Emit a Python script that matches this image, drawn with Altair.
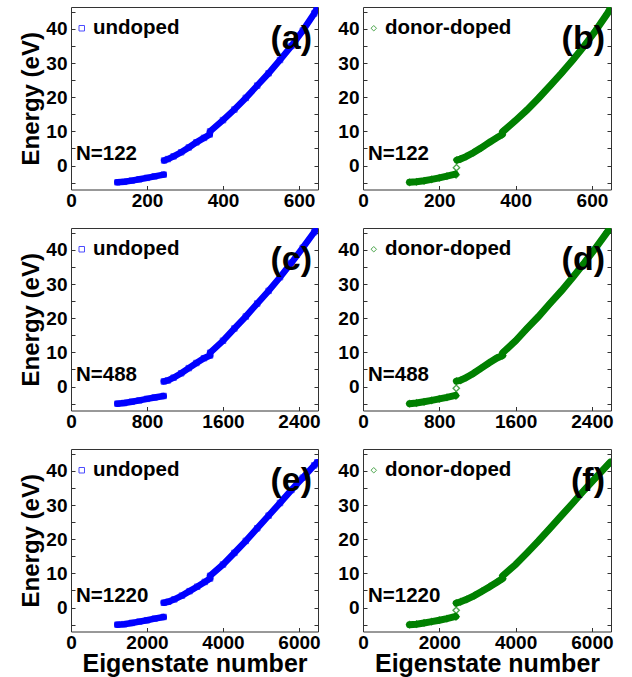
import altair as alt
import pandas as pd

BLUE = "#0000ff"
GREEN = "#008000"
FONT = "Liberation Sans"

Y_MIN, Y_MAX = -7, 46.4
Y_TICKS = [-5, 0, 5, 10, 15, 20, 25, 30, 35, 40, 45]

# ---------------- (a) undoped, N=122 ----------------
a_low_x = [122, 140, 160, 180, 200, 220, 244]
a_low_e = [-4.9, -4.75, -4.4, -4.0, -3.6, -3.15, -2.65]
a_up1_x = [245, 255, 270, 290, 310, 330, 350, 365]
a_up1_e = [1.5, 1.9, 2.7, 3.9, 5.3, 6.8, 8.1, 9.1]
a_up2_x = [366, 400, 430, 460, 490, 520, 550, 580, 610, 640, 650]
a_up2_e = [10.0, 13.3, 16.4, 19.8, 23.4, 27.0, 30.9, 35.0, 39.5, 44.5, 46.6]

# ---------------- (b) donor-doped, N=122 ----------------
b_low_x = [122, 140, 160, 180, 200, 220, 242]
b_low_e = [-4.9, -4.75, -4.45, -4.05, -3.6, -3.1, -2.5]
b_iso_x = [244, 245]
b_iso_e = [-2.7, -0.6]
b_up1_x = [246, 255, 270, 290, 310, 330, 350, 365]
b_up1_e = [1.6, 1.9, 2.6, 3.8, 5.2, 6.7, 8.1, 9.1]
b_up2_x = [366, 400, 430, 460, 490, 520, 550, 580, 610, 640, 650]
b_up2_e = [9.9, 13.2, 16.3, 19.7, 23.3, 27.0, 30.9, 35.0, 39.5, 44.4, 46.4]

# ---------------- (c) undoped, N=488 ----------------
c_low_x = [488, 560, 640, 720, 800, 880, 976]
c_low_e = [-5.0, -4.8, -4.45, -4.05, -3.6, -3.2, -2.75]
c_up1_x = [977, 1020, 1080, 1160, 1240, 1320, 1400, 1464]
c_up1_e = [1.5, 1.8, 2.6, 3.9, 5.4, 6.9, 8.3, 9.1]
c_up2_x = [1465, 1600, 1720, 1840, 1960, 2080, 2200, 2320, 2440, 2560, 2600]
c_up2_e = [9.9, 13.4, 17.0, 20.5, 24.3, 28.0, 32.0, 36.2, 40.6, 45.2, 46.8]

# ---------------- (d) donor-doped, N=488 ----------------
d_low_x = [488, 560, 640, 720, 800, 880, 970]
d_low_e = [-5.0, -4.8, -4.45, -4.05, -3.6, -3.15, -2.55]
d_iso_x = [975, 978]
d_iso_e = [-2.7, -0.5]
d_up1_x = [980, 1020, 1080, 1160, 1240, 1320, 1400, 1464]
d_up1_e = [1.6, 1.8, 2.6, 3.9, 5.4, 6.9, 8.3, 9.1]
d_up2_x = [1465, 1600, 1720, 1840, 1960, 2080, 2200, 2320, 2440, 2560, 2600]
d_up2_e = [9.9, 13.4, 17.0, 20.5, 24.3, 28.0, 32.0, 36.2, 40.6, 45.2, 46.8]

# ---------------- (e) undoped, N=1220 ----------------
e_low_x = [1220, 1400, 1600, 1800, 2000, 2200, 2440]
e_low_e = [-5.0, -4.85, -4.5, -4.1, -3.7, -3.25, -2.75]
e_up1_x = [2441, 2560, 2720, 2920, 3120, 3320, 3520, 3660]
e_up1_e = [1.4, 1.7, 2.4, 3.5, 4.8, 6.1, 7.5, 8.5]
e_up2_x = [3661, 4000, 4300, 4600, 4900, 5200, 5500, 5800, 6100, 6400, 6480]
e_up2_e = [9.3, 12.6, 16.0, 19.5, 23.2, 26.9, 30.6, 34.4, 38.0, 41.6, 42.5]

# ---------------- (f) donor-doped, N=1220 ----------------
f_low_x = [1220, 1400, 1600, 1800, 2000, 2200, 2430]
f_low_e = [-5.0, -4.85, -4.5, -4.1, -3.7, -3.25, -2.6]
f_iso_x = [2438, 2442]
f_iso_e = [-2.7, -0.8]
f_up1_x = [2445, 2560, 2720, 2920, 3120, 3320, 3520, 3660]
f_up1_e = [1.3, 1.7, 2.4, 3.5, 4.8, 6.1, 7.5, 8.5]
f_up2_x = [3661, 4000, 4300, 4600, 4900, 5200, 5500, 5800, 6100, 6400, 6480]
f_up2_e = [9.3, 12.6, 16.0, 19.5, 23.2, 26.9, 30.6, 34.4, 38.0, 41.6, 42.5]

x_max = [650, 650, 2600, 2600, 6500, 6500]
x_ticks = [[0, 200, 400, 600], [0, 200, 400, 600],
           [0, 800, 1600, 2400], [0, 800, 1600, 2400],
           [0, 2000, 4000, 6000], [0, 2000, 4000, 6000]]
letters = ["(a)", "(b)", "(c)", "(d)", "(e)", "(f)"]
n_labels = ["N=122", "N=122", "N=488", "N=488", "N=1220", "N=1220"]
series_names = ["undoped", "donor-doped"]

segments = [
    [(a_low_x, a_low_e), (a_up1_x, a_up1_e), (a_up2_x, a_up2_e)],
    [(b_low_x, b_low_e), (b_up1_x, b_up1_e), (b_up2_x, b_up2_e)],
    [(c_low_x, c_low_e), (c_up1_x, c_up1_e), (c_up2_x, c_up2_e)],
    [(d_low_x, d_low_e), (d_up1_x, d_up1_e), (d_up2_x, d_up2_e)],
    [(e_low_x, e_low_e), (e_up1_x, e_up1_e), (e_up2_x, e_up2_e)],
    [(f_low_x, f_low_e), (f_up1_x, f_up1_e), (f_up2_x, f_up2_e)],
]
isolated = [([], []), (b_iso_x, b_iso_e), ([], []), (d_iso_x, d_iso_e),
            ([], []), (f_iso_x, f_iso_e)]

W_L, W_R, H = 247, 248, 182.5


def panel(i):
    col = i % 2
    bottom = i >= 4
    color = BLUE if col == 0 else GREEN
    shape = "square" if col == 0 else "diamond"
    name = series_names[col]
    w = W_L if col == 0 else W_R

    rows = []
    for s, (xs, es) in enumerate(segments[i]):
        for x, e in zip(xs, es):
            rows.append({"x": x, "e": e, "seg": s, "series": name})
    line_df = pd.DataFrame(rows)
    iso_rows = [{"x": x, "e": e, "seg": 9, "series": name}
                for x, e in zip(*isolated[i])]
    pt_df = pd.DataFrame(rows + iso_rows)

    xscale = alt.Scale(domain=[0, x_max[i]], nice=False, zero=False)
    yscale = alt.Scale(domain=[Y_MIN, Y_MAX], nice=False, zero=False)

    xaxis_kw = dict(values=x_ticks[i], format="d", orient="bottom", offset=-4,
                    tickSize=4, domain=False, labelPadding=2, labelFlush=False,
                    grid=False)
    if bottom:
        xaxis = alt.Axis(title="Eigenstate number", titleFontSize=25,
                         titlePadding=-1, **xaxis_kw)
    else:
        xaxis = alt.Axis(title=None, **xaxis_kw)

    yl_kw = dict(values=Y_TICKS, orient="left", offset=-4, tickSize=4,
                 domain=False, labelPadding=4, grid=False,
                 labelExpr="datum.value % 10 === 0 ? datum.label : ''")
    if col == 0:
        yleft = alt.Axis(title="Energy (eV)", titleFontSize=24,
                         titlePadding=2, **yl_kw)
    else:
        yleft = alt.Axis(title=None, **yl_kw)
    yright = alt.Axis(values=Y_TICKS, orient="right", offset=-4, tickSize=4,
                      domain=False, labels=False, title=None, grid=False)

    line = alt.Chart(line_df).mark_line(
        color=color, strokeWidth=6.5 if col == 0 else 7, clip=True,
        strokeCap="round"
    ).encode(
        x=alt.X("x:Q", scale=xscale, axis=xaxis),
        y=alt.Y("e:Q", scale=yscale, axis=yleft),
        detail="seg:N",
    )

    pts = alt.Chart(pt_df).mark_point(
        shape=shape, filled=False, size=30 if col == 0 else 40,
        strokeWidth=1 if col == 0 else 1.4, clip=True
    ).encode(
        x=alt.X("x:Q", scale=xscale, axis=xaxis),
        y=alt.Y("e:Q", scale=yscale, axis=yright),
        color=alt.Color(
            "series:N",
            scale=alt.Scale(domain=[name], range=[color]),
            legend=alt.Legend(
                title=None, orient="none", legendX=0.5, legendY=11,
                labelFont=FONT, labelFontSize=20.5, labelFontWeight="bold",
                labelColor="black", symbolType=shape, symbolSize=30,
                symbolStrokeWidth=1, labelOffset=1, padding=0,
            ),
        ),
    )

    letter = alt.Chart(pd.DataFrame({"t": [letters[i]]})).mark_text(
        font=FONT, fontSize=34, fontWeight="bold", align="right",
        baseline="alphabetic", color="black"
    ).encode(text="t:N", x=alt.value(w - 6), y=alt.value(42))

    nlab = alt.Chart(pd.DataFrame({"t": [n_labels[i]]})).mark_text(
        font=FONT, fontSize=20.5, fontWeight="bold", align="left",
        baseline="alphabetic", color="black"
    ).encode(text="t:N", x=alt.value(5), y=alt.value(153))

    return alt.layer(line, pts, letter, nlab).resolve_scale(
        y="independent"
    ).resolve_axis(y="independent").properties(width=w, height=H)


chart = alt.concat(
    *[panel(i) for i in range(6)],
    columns=2,
    spacing={"row": 38, "column": 45},
    bounds="flush",
).resolve_scale(color="independent").resolve_legend(
    color="independent"
).properties(
    padding={"left": 19, "top": 6, "right": 5, "bottom": 0},
    background="white",
).configure_view(
    stroke="#333333", strokeWidth=1
).configure_axis(
    labelFont=FONT, labelFontSize=19, labelFontWeight="bold",
    labelColor="black", titleFont=FONT, titleFontWeight="bold",
    titleColor="black", tickColor="#333333", tickWidth=1,
)

chart.save("out.html", embed_options={"renderer": "svg", "actions": False})
